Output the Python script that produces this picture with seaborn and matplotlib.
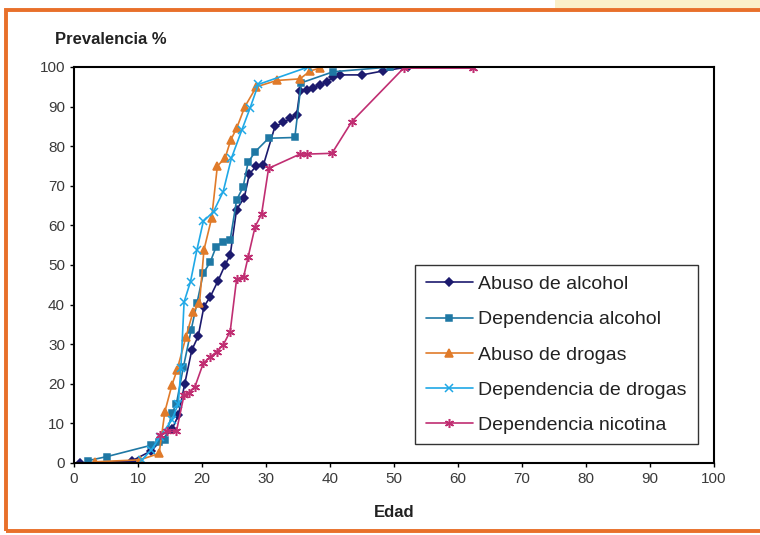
import seaborn as sns
import matplotlib.pyplot as plt
from matplotlib.patches import Rectangle


EDAD_ABUSO_ALC = [1, 9, 12, 15.3, 16.3, 17.3, 18.4, 19.4, 20.3, 21.3, 22.5, 23.6, 24.4, 25.4, 26.6, 27.4,
                  28.5, 29.6, 31.4, 32.7, 33.8, 34.8, 35.3, 36.4, 37.4, 38.4, 39.5, 40.5, 41.6, 45, 48.3, 52.2]
PREV_ABUSO_ALC = [0, 0.5, 3, 8.5, 12, 20, 28.5, 32, 39.5, 42, 46, 50, 52.5, 64, 67, 73,
                  75, 75.3, 85, 86, 87, 88, 94, 94.2, 94.8, 95.5, 96.2, 97.5, 98, 98, 99, 100]

EDAD_DEP_ALC = [2.2, 5.1, 12.1, 13.2, 14.2, 15.3, 16, 17.1, 18.3, 19.2, 20.2, 21.3, 22.2, 23.3, 24.4,
                25.4, 26.4, 27.2, 28.3, 30.4, 34.5, 35.5, 40.5, 49.4]
PREV_DEP_ALC = [0.6, 1.6, 4.5, 5.4, 5.8, 12.5, 15, 24.3, 33.6, 40.3, 47.9, 50.8, 54.6, 55.9, 56.3,
                66.4, 69.6, 75.9, 78.6, 82, 82.2, 96, 98.8, 100]

EDAD_ABUSO_DRO = [3.3, 10.3, 13.3, 14.2, 15.3, 16.1, 17.5, 18.6, 19.6, 20.3, 21.5, 22.4, 23.6, 24.5,
                  25.4, 26.7, 28.5, 31.7, 35.3, 36.9, 38.4]
PREV_ABUSO_DRO = [0.3, 0.8, 2.4, 13, 19.7, 23.5, 31.9, 38.2, 40.3, 53.8, 61.8, 75, 77, 81.6,
                  84.5, 90, 95, 96.6, 97, 99, 99.7]

EDAD_DEP_DRO = [10.6, 12.1, 13.4, 15.3, 16.3, 16.7, 17.2, 18.2, 19.2, 20.2, 21.8, 23.3, 24.6, 26.2,
                27.5, 28.8, 36.6]
PREV_DEP_DRO = [0.8, 3.3, 6.6, 10.9, 15, 24, 40.7, 45.8, 53.8, 61, 63.5, 68.5, 77, 84,
                89.6, 95.6, 100]

EDAD_NICOT = [13.4, 14.5, 16, 17.2, 17.9, 18.9, 20.2, 21.3, 22.3, 23.3, 24.4, 25.4, 26.5, 27.2,
              28.3, 29.3, 30.4, 35.3, 36.4, 40.3, 43.4, 51.5, 62.4]
PREV_NICOT = [7, 8, 8, 17.2, 17.6, 19.3, 25.2, 26.8, 28.1, 29.8, 33.2, 46.4, 47, 52,
              59.7, 62.8, 74.4, 78, 78, 78.2, 86.2, 99.7, 99.7]

SERIES = [
    ("Abuso de alcohol", EDAD_ABUSO_ALC, PREV_ABUSO_ALC, "#1c1a6e", "D", 4.5),
    ("Dependencia alcohol", EDAD_DEP_ALC, PREV_DEP_ALC, "#1f78a4", "s", 5),
    ("Abuso de drogas", EDAD_ABUSO_DRO, PREV_ABUSO_DRO, "#e07b2a", "^", 5.5),
    ("Dependencia de drogas", EDAD_DEP_DRO, PREV_DEP_DRO, "#1fa8e6", "x", 5.5),
    ("Dependencia nicotina", EDAD_NICOT, PREV_NICOT, "#c02e72", (6, 2, 0), 6.5),
]


def main() -> None:
    sns.set_style("white")
    plt.rcParams['font.family'] = ['Liberation Sans', 'DejaVu Sans']

    fig = plt.figure(figsize=(7.6, 5.35), dpi=100)
    ax = fig.add_axes([0.0974, 0.1346, 0.8421, 0.7402])

    for name, x, y, color, marker, ms in SERIES:
        sns.lineplot(x=x, y=y, ax=ax, color=color, marker=marker, markersize=ms,
                     markeredgecolor=color, markeredgewidth=1.1, linewidth=1.2,
                     sort=False, estimator=None, label=name)

    ax.set_xlim(0, 100)
    ax.set_ylim(0, 100)
    ax.set_xticks(range(0, 101, 10))
    ax.set_yticks(range(0, 101, 10))
    ax.tick_params(labelsize=11, length=3, width=1, color="black", labelcolor="#3a3a3a",
                   direction="out", left=True, bottom=True)
    for sp in ax.spines.values():
        sp.set_color("black")
        sp.set_linewidth(1.5)

    ax.set_xlabel("Edad", fontsize=12, fontweight="bold", labelpad=14, color="#222222")
    ax.set_ylabel("")
    fig.text(0.072, 0.927, "Prevalencia %", fontsize=12, fontweight="bold", va="center",
             ha="left", color="#222222")

    leg = ax.legend(loc="upper left", bbox_to_anchor=(0.533, 0.5), fontsize=14, frameon=True,
                    fancybox=False, edgecolor="black", handlelength=2.4, handletextpad=0.3,
                    labelspacing=0.9, borderpad=0.55, borderaxespad=0)
    leg.get_frame().set_linewidth(1.0)
    for t in leg.get_texts():
        t.set_color("#222222")

    fig.patches.append(Rectangle((0.73, 0.985), 0.27, 0.015, transform=fig.transFigure,
                                 facecolor="#fbf0c8", edgecolor="none"))
    fig.patches.append(Rectangle((0.008, 0.008), 1.0, 0.973, transform=fig.transFigure,
                                 fill=False, edgecolor="#e8702a", linewidth=2.8))

    fig.savefig("out.png", dpi=100)


if __name__ == '__main__':
    main()
